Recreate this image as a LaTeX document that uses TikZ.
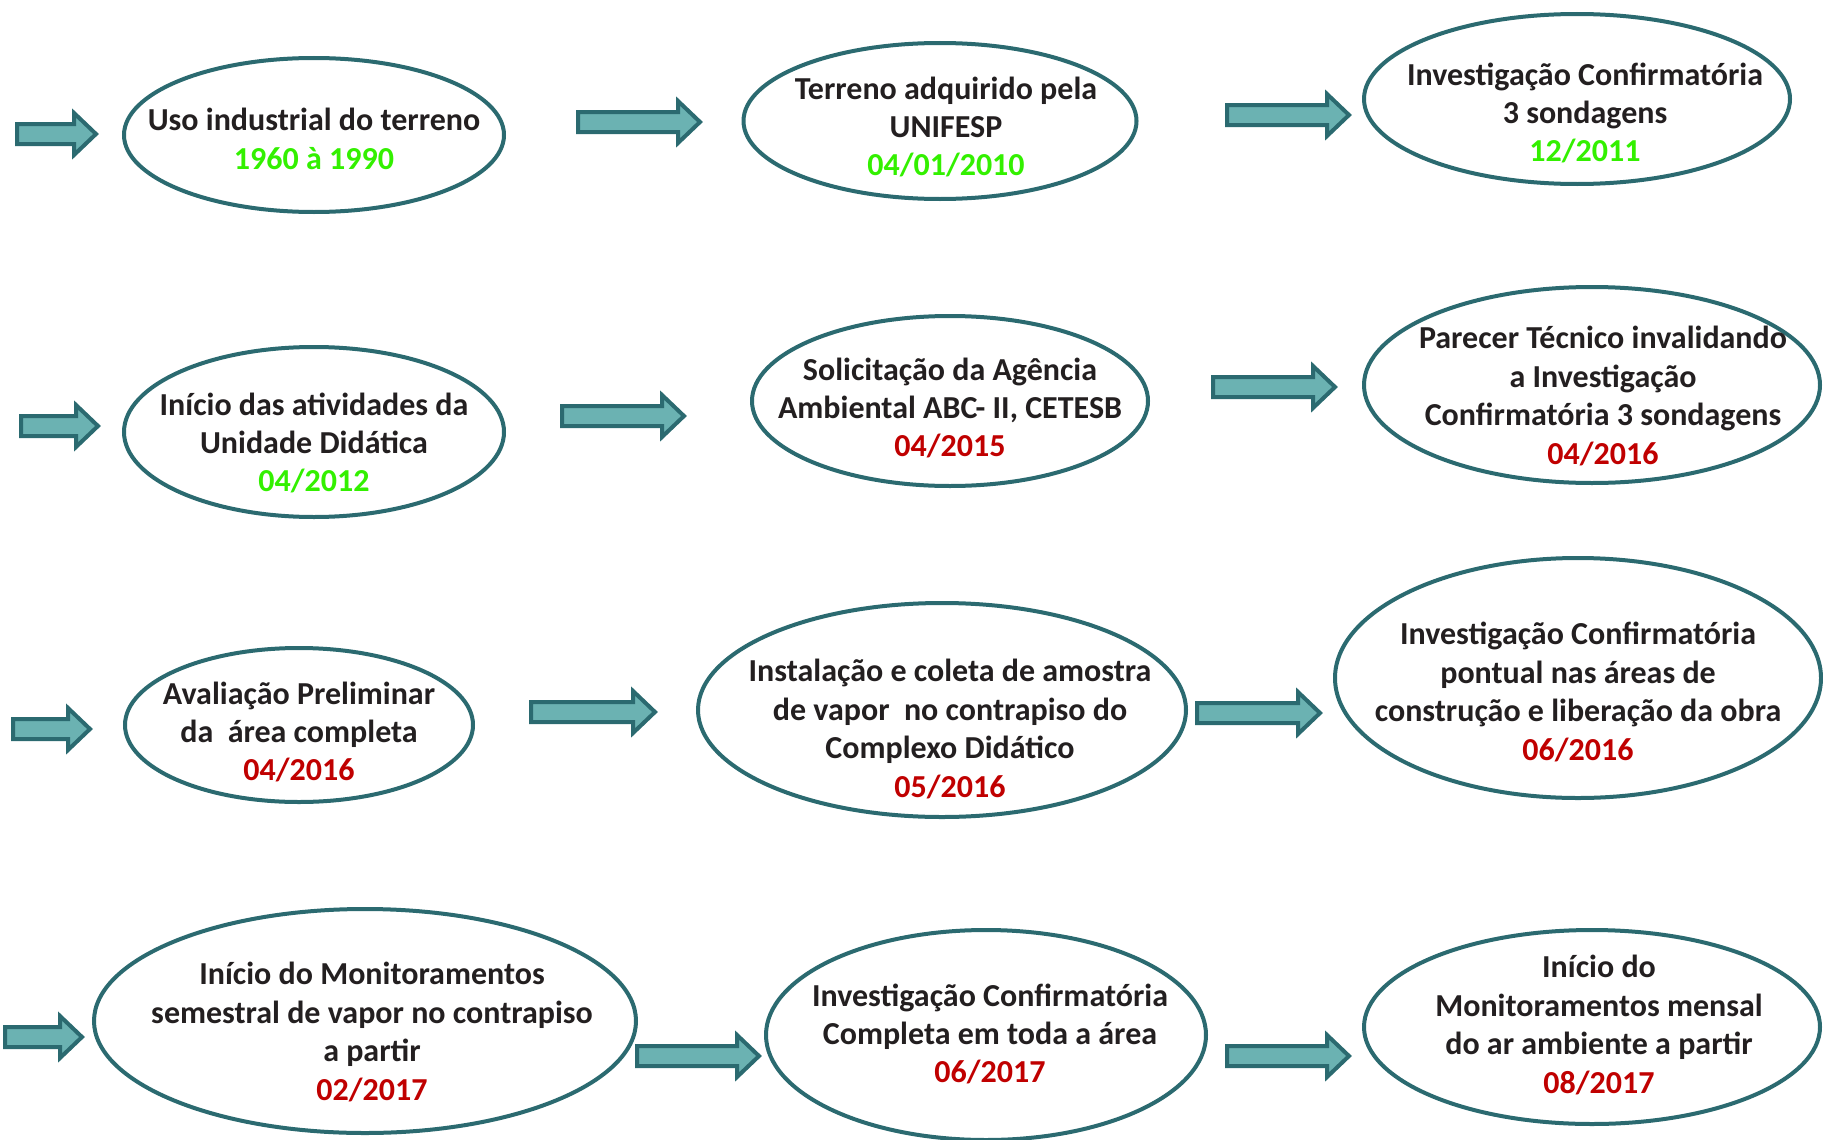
\documentclass[tikz,border=0pt]{standalone}
\usepackage{fontspec}
\setmainfont{Carlito}
\usetikzlibrary{shapes.geometric}
\definecolor{teal1}{HTML}{2B6A70}
\definecolor{tealfill}{HTML}{6BB2B2}
\definecolor{dgreen}{HTML}{33F000}
\definecolor{dred}{HTML}{C00000}
\definecolor{ink}{HTML}{231F20}
\newcommand{\barrow}[4]{%
  \coordinate (#1) at (#2,#4);
  \draw[arrsty] (#2,#4-10) -- (#3-24,#4-10) -- (#3-24,#4-21) -- (#3-2,#4) -- (#3-24,#4+21) -- (#3-24,#4+10) -- (#2,#4+10) -- cycle;}
\newcommand{\gd}[1]{\textcolor{dgreen}{#1}}
\newcommand{\rd}[1]{\textcolor{dred}{#1}}
\begin{document}
\begin{tikzpicture}[x=1pt,y=-1pt,
  ell/.style={draw=teal1, line width=4pt, ellipse, fill=white, inner sep=0pt},
  txt/.style={inner sep=0pt, align=center, text=ink, font=\fontsize{32}{38.4}\selectfont\bfseries},
  arrsty/.style={draw=teal1, fill=tealfill, line width=4pt, line join=miter}]
\useasboundingbox (0,0) rectangle (1823,1140);
% row 1
\barrow{a1}{17}{98}{134}
\node[ell, minimum width=380pt, minimum height=154pt] (e1) at (314,135) {};
\node[txt] (t1) at (314,139) {Uso industrial do terreno\\\gd{1960 à 1990}};
\barrow{a2}{578}{702}{122}
\node[ell, minimum width=393pt, minimum height=156pt] (e2) at (940,121) {};
\node[txt] (t2) at (946,127) {Terreno adquirido pela\\UNIFESP\\\gd{04/01/2010}};
\barrow{a3}{1227}{1351}{115}
\node[ell, minimum width=426pt, minimum height=170pt] (e3) at (1577,99) {};
\node[txt] (t3) at (1585,113) {Investigação Confirmatória\\3 sondagens\\\gd{12/2011}};
% row 2
\barrow{a4}{21}{100}{426}
\node[ell, minimum width=380pt, minimum height=170pt] (e4) at (314,432) {};
\node[txt] (t4) at (314,443) {Início das atividades da\\Unidade Didática\\\gd{04/2012}};
\barrow{a5}{562}{686}{416}
\node[ell, minimum width=396pt, minimum height=170pt] (e5) at (950,401) {};
\node[txt] (t5) at (950,408) {Solicitação da Agência\\Ambiental ABC- II, CETESB\\\rd{04/2015}};
\barrow{a6}{1213}{1337}{387}
\node[ell, minimum width=456pt, minimum height=196pt] (e6) at (1592,385) {};
\node[txt] (t6) at (1603,396) {Parecer Técnico invalidando\\a Investigação\\Confirmatória 3 sondagens\\\rd{04/2016}};
% row 3
\barrow{a7}{13}{92}{729}
\node[ell, minimum width=348pt, minimum height=154pt] (e7) at (299,725) {};
\node[txt] (t7) at (299,732) {Avaliação Preliminar\\da\ \ área completa\\\rd{04/2016}};
\barrow{a8}{531}{657}{712}
\node[ell, minimum width=488pt, minimum height=214pt] (e8) at (942,710) {};
\node[txt] (t8) at (950,729) {Instalação e coleta de amostra\\de vapor\ \ no contrapiso do\\Complexo Didático\\\rd{05/2016}};
\barrow{a9}{1197}{1322}{713}
\node[ell, minimum width=486pt, minimum height=240pt] (e9) at (1578,678) {};
\node[txt] (t9) at (1578,692) {Investigação Confirmatória\\pontual nas áreas de\\construção e liberação da obra\\\rd{06/2016}};
% row 4
\barrow{a10}{5}{84}{1037}
\node[ell, minimum width=542pt, minimum height=224pt] (e10) at (365,1021) {};
\node[txt] (t10) at (372,1032) {Início do Monitoramentos\\semestral de vapor no contrapiso\\a partir\\\rd{02/2017}};
\barrow{a11}{637}{761}{1056}
\node[ell, minimum width=440pt, minimum height=210pt] (e11) at (986,1035) {};
\node[txt] (t11) at (990,1034) {Investigação Confirmatória\\Completa em toda a área\\\rd{06/2017}};
\barrow{a12}{1227}{1351}{1056}
\node[ell, minimum width=456pt, minimum height=194pt] (e12) at (1592,1027) {};
\node[txt] (t12) at (1599,1025) {Início do\\Monitoramentos mensal\\do ar ambiente a partir\\\rd{08/2017}};
\end{tikzpicture}
\end{document}
